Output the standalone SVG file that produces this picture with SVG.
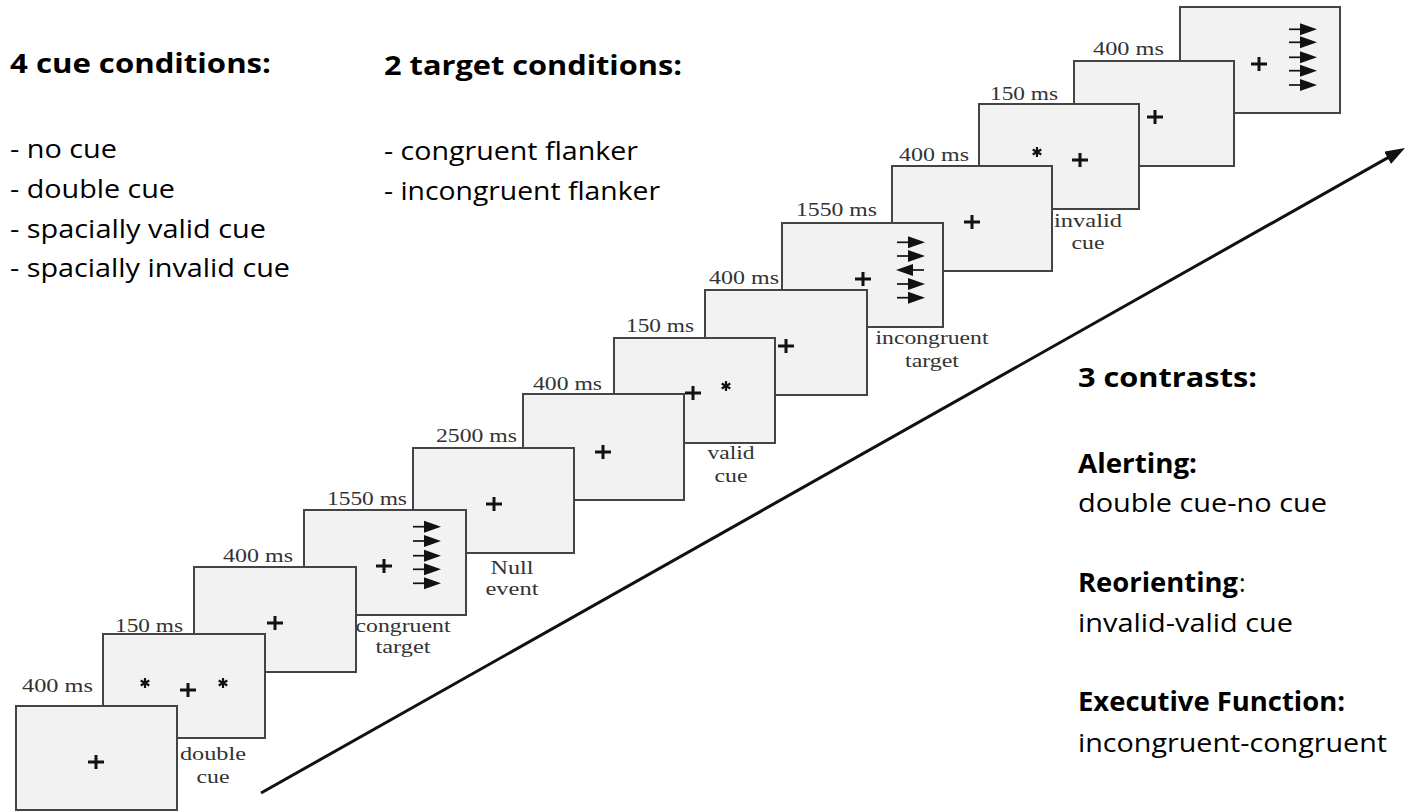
<svg xmlns="http://www.w3.org/2000/svg" xmlns:xlink="http://www.w3.org/1999/xlink" width="1413" height="811" viewBox="0 0 1413 811">
<style>
.box{fill:#f2f2f2;stroke:#444;stroke-width:2}
.lab{font-family:"Liberation Serif",serif;font-size:19px;fill:#333}
.mid{text-anchor:middle}
.h{font-family:"Open Sans",sans-serif;font-size:26px;font-weight:bold;fill:#000}
.t{font-family:"Open Sans",sans-serif;font-size:25px;fill:#000}
.pl{stroke:#111;stroke-width:3;fill:none}
.st{stroke:#111;stroke-width:2.2;fill:none}
.big{stroke:#111;stroke-width:3;fill:none}
</style>
<defs>
<path id="plus" class="pl" d="M-8,0H8M0,-7V7"/>
<path id="star" class="st" d="M0,-5V5M-4.3,-2.5L4.3,2.5M-4.3,2.5L4.3,-2.5"/>
<g id="ar"><path d="M0,0H13" stroke="#111" stroke-width="1.7"/><path d="M11,-6L28,0L11,6z" fill="#111"/></g>
<marker id="head" markerUnits="userSpaceOnUse" viewBox="0 0 20 14" refX="3" refY="7" markerWidth="20" markerHeight="14" orient="auto"><path d="M0,0L20,7L0,14z" fill="#111"/></marker>
</defs>

<g id="texts-left">
<text class="h" x="10" y="73" textLength="261" lengthAdjust="spacingAndGlyphs">4 cue conditions:</text>
<text class="t" x="10" y="158" textLength="107" lengthAdjust="spacingAndGlyphs">- no cue</text>
<text class="t" x="10" y="198" textLength="165" lengthAdjust="spacingAndGlyphs">- double cue</text>
<text class="t" x="10" y="238" textLength="256" lengthAdjust="spacingAndGlyphs">- spacially valid cue</text>
<text class="t" x="10" y="277" textLength="280" lengthAdjust="spacingAndGlyphs">- spacially invalid cue</text>
</g>
<g id="texts-target">
<text class="h" x="384" y="75" textLength="298" lengthAdjust="spacingAndGlyphs">2 target conditions:</text>
<text class="t" x="384" y="160" textLength="254" lengthAdjust="spacingAndGlyphs">- congruent flanker</text>
<text class="t" x="384" y="200" textLength="276" lengthAdjust="spacingAndGlyphs">- incongruent flanker</text>
</g>
<g id="texts-contrasts">
<text class="h" x="1078" y="387" textLength="179" lengthAdjust="spacingAndGlyphs">3 contrasts:</text>
<text class="h" x="1078" y="473" textLength="119" lengthAdjust="spacingAndGlyphs">Alerting:</text>
<text class="t" x="1078" y="512" textLength="249" lengthAdjust="spacingAndGlyphs">double cue-no cue</text>
<text class="h" x="1078" y="592" textLength="160" lengthAdjust="spacingAndGlyphs">Reorienting</text>
<text class="t" x="1239" y="592">:</text>
<text class="t" x="1078" y="632" textLength="215" lengthAdjust="spacingAndGlyphs">invalid-valid cue</text>
<text class="h" x="1078" y="711" textLength="267" lengthAdjust="spacingAndGlyphs">Executive Function:</text>
<text class="t" x="1078" y="752" textLength="309" lengthAdjust="spacingAndGlyphs">incongruent-congruent</text>
</g>

<g id="connectors">
<path class="big" d="M261,793L1390.2,156.4" marker-end="url(#head)"/>
</g>

<g id="box13">
<rect class="box" x="1180" y="7" width="160" height="106"/>
<use xlink:href="#plus" x="1259" y="64"/>
<use xlink:href="#ar" x="1289" y="29.3"/>
<use xlink:href="#ar" x="1289" y="42.3"/>
<use xlink:href="#ar" x="1289" y="57.3"/>
<use xlink:href="#ar" x="1289" y="70.7"/>
<use xlink:href="#ar" x="1289" y="85"/>
</g>
<g id="box12">
<rect class="box" x="1074" y="61" width="160" height="105"/>
<use xlink:href="#plus" x="1155" y="117"/>
<text class="lab" x="1093" y="55" textLength="71" lengthAdjust="spacingAndGlyphs">400 ms</text>
</g>
<g id="box11">
<rect class="box" x="979" y="104" width="160" height="105"/>
<use xlink:href="#star" x="1037" y="152"/>
<use xlink:href="#plus" x="1080" y="160"/>
<text class="lab" x="990" y="100" textLength="68" lengthAdjust="spacingAndGlyphs">150 ms</text>
<text class="lab mid" x="1088" y="227" textLength="68" lengthAdjust="spacingAndGlyphs">invalid</text>
<text class="lab mid" x="1088" y="249" textLength="33" lengthAdjust="spacingAndGlyphs">cue</text>
</g>
<g id="box10">
<rect class="box" x="892" y="166" width="160" height="105"/>
<use xlink:href="#plus" x="972" y="222"/>
<text class="lab" x="899" y="161" textLength="70" lengthAdjust="spacingAndGlyphs">400 ms</text>
</g>
<g id="box9">
<rect class="box" x="782" y="223" width="161" height="104"/>
<use xlink:href="#plus" x="863" y="279"/>
<use xlink:href="#ar" x="897" y="242.3"/>
<use xlink:href="#ar" x="897" y="256"/>
<use xlink:href="#ar" transform="translate(924,270) scale(-1,1)"/>
<use xlink:href="#ar" x="897" y="284"/>
<use xlink:href="#ar" x="897" y="297.7"/>
<text class="lab" x="796" y="216" textLength="81" lengthAdjust="spacingAndGlyphs">1550 ms</text>
<text class="lab mid" x="932" y="344" textLength="113" lengthAdjust="spacingAndGlyphs">incongruent</text>
<text class="lab mid" x="932" y="367" textLength="54" lengthAdjust="spacingAndGlyphs">target</text>
</g>
<g id="box8">
<rect class="box" x="705" y="290" width="162" height="105"/>
<use xlink:href="#plus" x="786" y="346"/>
<text class="lab" x="709" y="284" textLength="70" lengthAdjust="spacingAndGlyphs">400 ms</text>
</g>
<g id="box7">
<rect class="box" x="614" y="338" width="161" height="105"/>
<use xlink:href="#plus" x="693" y="393"/>
<use xlink:href="#star" x="726" y="386"/>
<text class="lab" x="626" y="332" textLength="68" lengthAdjust="spacingAndGlyphs">150 ms</text>
<text class="lab mid" x="731" y="459" textLength="47" lengthAdjust="spacingAndGlyphs">valid</text>
<text class="lab mid" x="731" y="482" textLength="33" lengthAdjust="spacingAndGlyphs">cue</text>
</g>
<g id="box6">
<rect class="box" x="523" y="394" width="161" height="106"/>
<use xlink:href="#plus" x="603" y="452"/>
<text class="lab" x="533" y="390" textLength="69" lengthAdjust="spacingAndGlyphs">400 ms</text>
</g>
<g id="box5">
<rect class="box" x="413" y="448" width="161" height="105"/>
<use xlink:href="#plus" x="494" y="504"/>
<text class="lab" x="436" y="442" textLength="81" lengthAdjust="spacingAndGlyphs">2500 ms</text>
<text class="lab mid" x="512" y="574" textLength="43" lengthAdjust="spacingAndGlyphs">Null</text>
<text class="lab mid" x="512" y="595" textLength="53" lengthAdjust="spacingAndGlyphs">event</text>
</g>
<g id="box4">
<rect class="box" x="304" y="510" width="162" height="105"/>
<use xlink:href="#plus" x="384" y="566"/>
<use xlink:href="#ar" x="413" y="526.7"/>
<use xlink:href="#ar" x="413" y="541"/>
<use xlink:href="#ar" x="413" y="555.7"/>
<use xlink:href="#ar" x="413" y="569.3"/>
<use xlink:href="#ar" x="413" y="583.3"/>
<text class="lab" x="327" y="505" textLength="80" lengthAdjust="spacingAndGlyphs">1550 ms</text>
<text class="lab mid" x="403" y="632" textLength="95" lengthAdjust="spacingAndGlyphs">congruent</text>
<text class="lab mid" x="403" y="653" textLength="55" lengthAdjust="spacingAndGlyphs">target</text>
</g>
<g id="box3">
<rect class="box" x="194" y="567" width="162" height="105"/>
<use xlink:href="#plus" x="275" y="623"/>
<text class="lab" x="223" y="562" textLength="70" lengthAdjust="spacingAndGlyphs">400 ms</text>
</g>
<g id="box2">
<rect class="box" x="103" y="634" width="162" height="104"/>
<use xlink:href="#star" x="145" y="683"/>
<use xlink:href="#plus" x="188" y="690"/>
<use xlink:href="#star" x="223" y="683"/>
<text class="lab" x="115" y="632" textLength="68" lengthAdjust="spacingAndGlyphs">150 ms</text>
<text class="lab mid" x="213" y="760" textLength="66" lengthAdjust="spacingAndGlyphs">double</text>
<text class="lab mid" x="213" y="783" textLength="33" lengthAdjust="spacingAndGlyphs">cue</text>
</g>
<g id="box1">
<rect class="box" x="16" y="706" width="161" height="104"/>
<use xlink:href="#plus" x="96" y="762"/>
<text class="lab" x="22" y="692" textLength="71" lengthAdjust="spacingAndGlyphs">400 ms</text>
</g>
</svg>
